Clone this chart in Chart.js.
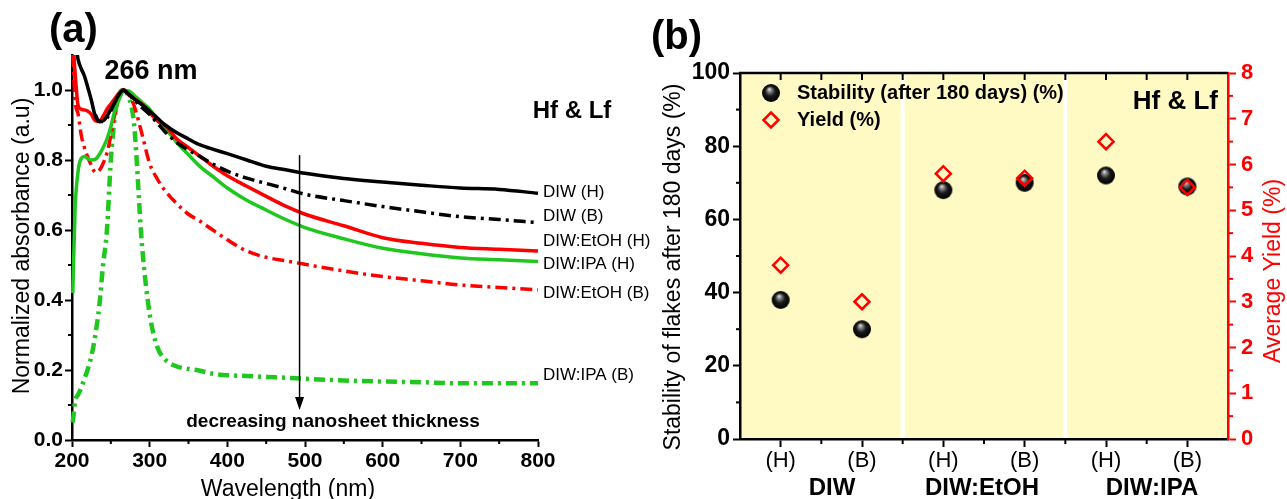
<!DOCTYPE html>
<html><head><meta charset="utf-8">
<script src="https://cdn.jsdelivr.net/npm/chart.js@4/dist/chart.umd.min.js"></script>
<style>
html,body{margin:0;padding:0;background:#fff;width:1287px;height:499px;overflow:hidden;}
#ca{position:absolute;left:0;top:0;}
#cb{position:absolute;left:640px;top:0;}
</style></head><body>
<canvas id="ca" width="700" height="499"></canvas>
<canvas id="cb" width="647" height="499"></canvas>
<script>
// ---------- Panel (a) data ----------
const wavelengths = [201,204,208,212,216,220,225,230,235,240,245,250,255,260,266,272,280,290,300,310,320,335,350,365,380,400,425,450,475,500,550,600,650,700,750,800];
const diwH     = [null,1.14,1.086,1.06,1.04,1.01,0.97,0.925,0.91,0.912,0.925,0.945,0.965,0.985,1.0,0.99,0.975,0.958,0.94,0.92,0.9,0.878,0.86,0.843,0.832,0.818,0.8,0.782,0.772,0.762,0.747,0.737,0.728,0.72,0.716,0.705];
const diwB     = [null,null,null,null,null,null,null,0.93,0.91,0.91,0.92,0.94,0.965,0.985,1.0,0.99,0.972,0.95,0.93,0.905,0.88,0.85,0.828,0.81,0.79,0.768,0.748,0.733,0.718,0.702,0.684,0.667,0.652,0.638,0.63,0.621];
const etohH    = [1.15,1.05,0.955,0.945,0.943,0.94,0.93,0.912,0.91,0.925,0.945,0.96,0.975,0.99,1.0,0.99,0.975,0.96,0.935,0.912,0.898,0.86,0.835,0.81,0.785,0.755,0.725,0.696,0.668,0.645,0.612,0.578,0.562,0.55,0.545,0.54];
const ipaH     = [0.42,0.66,0.77,0.805,0.81,0.805,0.8,0.802,0.815,0.835,0.86,0.895,0.94,0.97,0.995,0.998,0.985,0.965,0.945,0.915,0.89,0.85,0.815,0.781,0.755,0.72,0.685,0.657,0.63,0.607,0.575,0.548,0.532,0.52,0.515,0.51];
const etohB    = [1.1,0.97,0.93,0.87,0.835,0.81,0.785,0.765,0.77,0.79,0.82,0.87,0.93,0.975,1.0,0.99,0.955,0.875,0.79,0.745,0.712,0.675,0.645,0.625,0.602,0.572,0.54,0.522,0.512,0.502,0.483,0.467,0.455,0.443,0.436,0.429];
const ipaB     = [0.05,0.11,0.13,0.15,0.175,0.2,0.24,0.3,0.38,0.5,0.6,0.8,0.92,0.985,1.0,0.985,0.9,0.56,0.36,0.265,0.23,0.21,0.203,0.198,0.19,0.185,0.183,0.18,0.178,0.175,0.17,0.167,0.165,0.162,0.162,0.162];
const seriesNamesA = ['DIW (H)','DIW (B)','DIW:EtOH (H)','DIW:IPA (H)','DIW:EtOH (B)','DIW:IPA (B)'];
const xTicksA = [200,300,400,500,600,700,800];
const yTicksA = [0,0.2,0.4,0.6,0.8,1.0];

// ---------- Panel (b) data ----------
const sampleCategories = ['(H)','(B)','(H)','(B)','(H)','(B)'];
const solventGroups = ['DIW','DIW:EtOH','DIW:IPA'];
const stabilityPct = [38,30,68,70,72,69];
const yieldPct = [3.8,3.0,5.8,5.7,6.5,5.5];

const FONT = '"Liberation Sans", Arial, sans-serif';
Chart.defaults.font.family = FONT;
Chart.defaults.color = '#000';

const GREEN = '#1fc71f', RED = '#ff0000', BLACK = '#000000';
const styleA = [
  {color:BLACK, dash:[], width:3.5},
  {color:BLACK, dash:[12,5,3,5], width:3.5},
  {color:RED,   dash:[], width:3.5},
  {color:GREEN, dash:[], width:3.5},
  {color:RED,   dash:[12,5,3,5], width:3.5},
  {color:GREEN, dash:[11,5,3,5], width:4.5},
];
const valuesA = [diwH, diwB, etohH, ipaH, etohB, ipaB];

function rotText(ctx, text, x, y, font, color){
  ctx.save(); ctx.translate(x,y); ctx.rotate(-Math.PI/2);
  ctx.font = font; ctx.fillStyle = color; ctx.textAlign='center'; ctx.textBaseline='alphabetic';
  ctx.fillText(text,0,0); ctx.restore();
}

const decorA = {
  id:'decorA',
  afterDraw(chart){
    const ctx = chart.ctx, xs = chart.scales.x, ys = chart.scales.y;
    ctx.save();
    ctx.strokeStyle='#000'; ctx.lineWidth=2;
    for (let v=0.1; v<1.05; v+=0.2){ const p=ys.getPixelForValue(v); ctx.beginPath(); ctx.moveTo(ys.right,p); ctx.lineTo(ys.right-4,p); ctx.stroke(); }
    for (let v=250; v<800; v+=100){ const p=xs.getPixelForValue(v); ctx.beginPath(); ctx.moveTo(p,xs.top); ctx.lineTo(p,xs.top+4); ctx.stroke(); }
    const ax = xs.getPixelForValue(493), ay1 = ys.getPixelForValue(0.814), ay2 = ys.getPixelForValue(0.086);
    ctx.lineWidth=1.5; ctx.beginPath(); ctx.moveTo(ax,ay1); ctx.lineTo(ax,ay2-10); ctx.stroke();
    ctx.fillStyle='#000'; ctx.beginPath(); ctx.moveTo(ax,ay2); ctx.lineTo(ax-4.5,ay2-13); ctx.lineTo(ax+4.5,ay2-13); ctx.closePath(); ctx.fill();
    ctx.fillStyle='#000'; ctx.textBaseline='middle';
    ctx.font='bold 40px '+FONT; ctx.textAlign='left'; ctx.fillText('(a)',49,31);
    ctx.font='bold 27px '+FONT; ctx.textAlign='center'; ctx.fillText('266 nm',151,72);
    ctx.font='bold 24px '+FONT; ctx.fillText('Hf & Lf',572,111);
    ctx.font='bold 19px '+FONT; ctx.fillText('decreasing nanosheet thickness',333,422);
    ctx.font='17px '+FONT; ctx.textAlign='left';
    const labelY = [0.709,0.638,0.567,0.503,0.42,0.186];
    seriesNamesA.forEach((n,i)=>ctx.fillText(n,543,ys.getPixelForValue(labelY[i])));
    rotText(ctx,'Normalized absorbance (a.u)',29,246,'23px '+FONT,'#000');
    ctx.font='23px '+FONT; ctx.textAlign='center'; ctx.textBaseline='alphabetic';
    ctx.fillText('Wavelength (nm)',288,496);
    ctx.restore();
  }
};

new Chart(document.getElementById('ca'), {
  type:'line',
  data:{ datasets: valuesA.map((vals,i)=>({
    label: seriesNamesA[i],
    data: wavelengths.map((w,j)=>({x:w,y:vals[j]})),
    borderColor: styleA[i].color, borderDash: styleA[i].dash, borderWidth: styleA[i].width,
    pointRadius:0, fill:false, cubicInterpolationMode:'monotone', spanGaps:false,
    clip:{left:5,right:5,top:0,bottom:5}
  }))},
  options:{
    responsive:false, animation:false, events:[],
    layout:{padding:{left:0,top:55,right:162,bottom:0}},
    plugins:{legend:{display:false}, tooltip:{enabled:false}},
    scales:{
      x:{type:'linear', min:200, max:800,
         ticks:{stepSize:100, color:'#000', font:{size:21, weight:'bold'}, padding:2, maxRotation:0, callback:v=>xTicksA.includes(v)?String(v):''},
         grid:{drawOnChartArea:false, tickLength:7, tickWidth:2, tickColor:'#000'},
         border:{color:'#000', width:2.5},
         afterFit(s){ s.height = 59; }},
      y:{min:0, max:1.1,
         ticks:{stepSize:0.2, includeBounds:false, color:'#000', font:{size:21, weight:'bold'}, padding:2, callback:v=>yTicksA.some(t=>Math.abs(t-v)<1e-6)?v.toFixed(1):''},
         grid:{drawOnChartArea:false, tickLength:7, tickWidth:2, tickColor:'#000'},
         border:{color:'#000', width:2.5},
         afterFit(s){ s.width = 72; }}
    }
  },
  plugins:[decorA]
});

// ---------- Panel (b) ----------
function makeSphere(r){
  const c=document.createElement('canvas'); const s=Math.ceil(r*2+2); c.width=s; c.height=s;
  const g=c.getContext('2d'); const cx=s/2, cy=s/2;
  const grad=g.createRadialGradient(cx-r*0.2, cy-r*0.45, 0, cx, cy, r);
  grad.addColorStop(0,'#eeeeee'); grad.addColorStop(0.22,'#8a8a8a'); grad.addColorStop(0.55,'#1a1a1a'); grad.addColorStop(1,'#000');
  g.fillStyle=grad; g.beginPath(); g.arc(cx,cy,r,0,Math.PI*2); g.fill();
  return c;
}
const sphere = makeSphere(9);
const YELLOW = '#fffac4';

const decorB = {
  id:'decorB',
  beforeDraw(chart){
    const ctx=chart.ctx, a=chart.chartArea, xs=chart.scales.x;
    ctx.save();
    ctx.fillStyle=YELLOW; ctx.fillRect(a.left,a.top,a.right-a.left,a.bottom-a.top);
    ctx.strokeStyle='#fff'; ctx.lineWidth=4;
    [1,3].forEach(i=>{ const p=(xs.getPixelForValue(i)+xs.getPixelForValue(i+1))/2; ctx.beginPath(); ctx.moveTo(p,a.top); ctx.lineTo(p,a.bottom); ctx.stroke(); });
    ctx.restore();
  },
  afterDraw(chart){
    const ctx=chart.ctx, a=chart.chartArea, xs=chart.scales.x, ys=chart.scales.y, y1=chart.scales.y1;
    ctx.save();
    ctx.strokeStyle='#000'; ctx.lineWidth=2.5; ctx.beginPath(); ctx.moveTo(a.left-1,a.top); ctx.lineTo(a.right,a.top); ctx.stroke();
    ctx.lineWidth=2;
    for (let i=0;i<sampleCategories.length;i++){
      const p=xs.getPixelForValue(i); ctx.beginPath(); ctx.moveTo(p,a.top); ctx.lineTo(p,a.top+7); ctx.stroke();
      if (i<sampleCategories.length-1){
        const q=(p+xs.getPixelForValue(i+1))/2;
        ctx.beginPath(); ctx.moveTo(q,a.top); ctx.lineTo(q,a.top+7); ctx.stroke();
        ctx.beginPath(); ctx.moveTo(q,a.bottom); ctx.lineTo(q,a.bottom+5); ctx.stroke();
      }
    }
    for (let v=10; v<100; v+=20){ const p=ys.getPixelForValue(v); ctx.beginPath(); ctx.moveTo(a.left,p); ctx.lineTo(a.left-4,p); ctx.stroke(); }
    ctx.strokeStyle=RED;
    for (let v=0.5; v<8; v+=1){ const p=y1.getPixelForValue(v); ctx.beginPath(); ctx.moveTo(a.right,p); ctx.lineTo(a.right+5,p); ctx.stroke(); }
    ctx.drawImage(sphere, 131-sphere.width/2, 93-sphere.height/2);
    ctx.strokeStyle=RED; ctx.lineWidth=2.5; ctx.beginPath();
    ctx.moveTo(131,120-7.5); ctx.lineTo(138.5,120); ctx.lineTo(131,127.5); ctx.lineTo(123.5,120); ctx.closePath(); ctx.stroke();
    ctx.fillStyle='#000'; ctx.textBaseline='middle'; ctx.textAlign='left';
    ctx.font='bold 20px '+FONT;
    ctx.fillText(chart.data.datasets[1].label,157,93);
    ctx.fillText(chart.data.datasets[0].label,157,120);
    ctx.font='bold 26px '+FONT; ctx.textAlign='right'; ctx.fillText('Hf & Lf',578,102);
    ctx.font='bold 40px '+FONT; ctx.textAlign='left'; ctx.fillText('(b)',11,38);
    ctx.font='bold 24px '+FONT; ctx.textAlign='center';
    const gx=[192,342,512];
    solventGroups.forEach((g,i)=>ctx.fillText(g,gx[i],488));
    rotText(ctx,'Stability of flakes after 180 days (%)',40,267,'23px '+FONT,'#000');
    rotText(ctx,'Average Yield (%)',640,271,'23px '+FONT,RED);
    ctx.restore();
  }
};

new Chart(document.getElementById('cb'), {
  type:'line',
  data:{ labels: sampleCategories, datasets:[
    {label:'Yield (%)', data:yieldPct, yAxisID:'y1', showLine:false, pointStyle:'rectRot', pointRadius:7.5, borderColor:RED, borderWidth:2.5, backgroundColor:'rgba(0,0,0,0)', order:0},
    {label:'Stability (after 180 days) (%)', data:stabilityPct, yAxisID:'y', showLine:false, pointStyle:sphere, pointRadius:9, borderWidth:0, order:1}
  ]},
  options:{
    responsive:false, animation:false, events:[],
    layout:{padding:{left:0,top:73,right:0,bottom:0}},
    plugins:{legend:{display:false}, tooltip:{enabled:false}},
    scales:{
      x:{type:'category', offset:true,
         ticks:{color:'#000', font:{size:22}, padding:1, maxRotation:0, autoSkip:false},
         grid:{offset:false, drawOnChartArea:false, tickLength:8, tickWidth:2, tickColor:'#000'},
         border:{color:'#000', width:2.5},
         afterFit(s){ s.height = 60; }},
      y:{position:'left', min:0, max:100,
         ticks:{stepSize:20, color:'#000', font:{size:23, weight:'bold'}, padding:3},
         grid:{drawOnChartArea:false, tickLength:7, tickWidth:2, tickColor:'#000'},
         border:{color:'#000', width:2.5},
         afterFit(s){ s.width = 100; }},
      y1:{position:'right', min:0, max:8,
         ticks:{stepSize:1, color:RED, font:{size:22, weight:'bold'}, padding:5},
         grid:{drawOnChartArea:false, tickLength:8, tickWidth:2, tickColor:RED},
         border:{color:RED, width:2.5},
         afterFit(s){ s.width = 59; }}
    }
  },
  plugins:[decorB]
});
</script>
</body></html>
